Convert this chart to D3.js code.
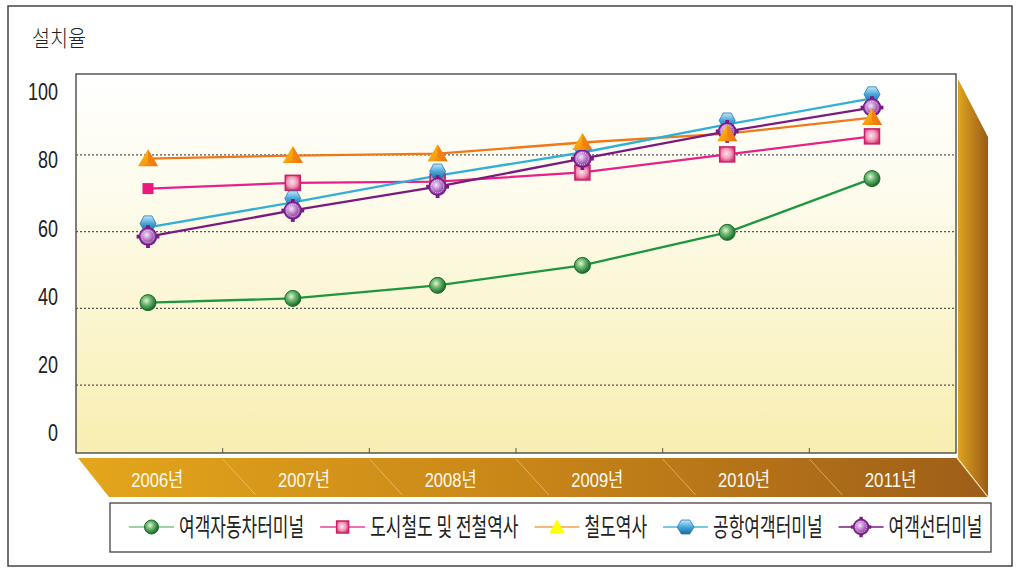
<!DOCTYPE html>
<html><head><meta charset="utf-8">
<script src="https://cdn.jsdelivr.net/npm/d3@7"></script>
<style>html,body{margin:0;padding:0;background:#fff;}svg{display:block;}</style>
</head><body>
<svg id="chart" width="1030" height="571"></svg>
<script>
// ---- data ----
const years = ["2006년","2007년","2008년","2009년","2010년","2011년"];
const seriesNames = ["여객자동차터미널","도시철도 및 전철역사","철도역사","공항여객터미널","여객선터미널"];
const busTerminal   = [41.5, 42.6, 46.0, 51.2, 59.8, 73.8];
const urbanRail     = [71.2, 72.7, 73.0, 75.4, 80.1, 84.8];
const railStation   = [79.0, 79.8, 80.3, 83.2, 85.5, 89.7];
const airport       = [61.1, 67.6, 74.6, 80.6, 87.9, 94.7];
const ferryTerminal = [58.7, 65.5, 71.7, 79.0, 86.1, 92.3];
const yTicks = [0, 20, 40, 60, 80, 100];
const gridValues = [20, 40, 60, 80];
const yTitle = "설치율";

const svg = d3.select("#chart");
const defs = svg.append("defs");

function linGrad(id, x1, y1, x2, y2, stops, user) {
  const g = defs.append("linearGradient").attr("id", id)
    .attr("x1", x1).attr("y1", y1).attr("x2", x2).attr("y2", y2);
  if (user) g.attr("gradientUnits", "userSpaceOnUse");
  stops.forEach(s => g.append("stop").attr("offset", s[0]).attr("stop-color", s[1]));
}
function radGrad(id, cx, cy, stops) {
  const g = defs.append("radialGradient").attr("id", id).attr("cx", cx).attr("cy", cy).attr("r", "60%");
  stops.forEach(s => g.append("stop").attr("offset", s[0]).attr("stop-color", s[1]));
}
linGrad("plotBg", 0, 0, 0, 1, [[0, "#ffffff"], [0.35, "#fdfbea"], [1, "#f8eeb0"]]);
linGrad("floorGrad", 78, 0, 987, 0, [[0, "#e3a61c"], [0.5, "#c88518"], [1, "#9e5e18"]], true);
linGrad("wallGrad", 958, 0, 988, 0, [[0, "#dea420"], [1, "#9a5a16"]], true);
radGrad("greenBall", "40%", "38%", [[0, "#e4f4d8"], [0.45, "#6cb870"], [1, "#1a6c2c"]]);
radGrad("pinkSq", "45%", "45%", [[0, "#fde4ec"], [0.55, "#f29ab8"], [1, "#d8306e"]]);
linGrad("triGrad", 0, 0, 1, 1, [[0, "#ffc400"], [0.55, "#f8a010"], [1, "#ec6a0c"]]);
linGrad("hexGrad", 0, 0, 0, 1, [[0, "#c0e8fa"], [0.5, "#4aa6d8"], [1, "#1c6aa0"]]);
radGrad("gearGrad", "42%", "40%", [[0, "#f6e6fa"], [0.5, "#b878c8"], [1, "#7a2888"]]);

// ---- layout ----
const plotL = 76, plotR = 956, plotT = 74, plotB = 453;
const y = d3.scaleLinear().domain([0, 100]).range([462, 78]);
const yLabel = d3.scaleLinear().domain([0, 100]).range([433, 92]);
const xBand = d3.scaleBand().domain(years).range([plotL, plotR]);
const x = d3.scalePoint().domain(years).range([148, 872]);

// outer border
svg.append("rect").attr("x", 8).attr("y", 6).attr("width", 1004).attr("height", 560)
  .attr("fill", "#fff").attr("stroke", "#444").attr("stroke-width", 1.5);

// y title
svg.append("text").attr("x", 32).attr("y", 38).attr("dy", "0.35em")
  .attr("font-family", "Noto Sans CJK KR").attr("font-size", 22).attr("font-weight", 300).attr("fill", "#222")
  .attr("textLength", 54).attr("lengthAdjust", "spacingAndGlyphs").text(yTitle);

// plot area
svg.append("rect").attr("x", plotL).attr("y", plotT).attr("width", plotR - plotL).attr("height", plotB - plotT)
  .attr("fill", "url(#plotBg)").attr("stroke", "#555").attr("stroke-width", 1.5);

// right wall
svg.append("path")
  .attr("d", `M958,79 L988,137 L988,497 L958,458 Z`)
  .attr("fill", "url(#wallGrad)");

// floor
const floorT = 458, floorB = 497, skew = 31;
svg.append("path")
  .attr("d", `M${plotL + 2},${floorT} L${plotR + 1},${floorT} L${plotR + skew + 1},${floorB} L${plotL + skew + 2},${floorB} Z`)
  .attr("fill", "url(#floorGrad)");
svg.append("line").attr("x1", plotR + 1).attr("y1", floorT).attr("x2", plotR + skew + 1).attr("y2", floorB)
  .attr("stroke", "#f4e2b0").attr("stroke-width", 1.2);
years.slice(1).forEach(yr => {
  const bx = xBand(yr);
  svg.append("line").attr("x1", bx).attr("y1", floorT + 1).attr("x2", bx + skew + 2).attr("y2", floorB - 2)
    .attr("stroke", "#f0d48a").attr("stroke-opacity", 0.75).attr("stroke-width", 0.8);
  svg.append("line").attr("x1", bx).attr("y1", plotB - 5).attr("x2", bx).attr("y2", plotB)
    .attr("stroke", "#555").attr("stroke-width", 1);
});
// year labels
svg.append("g").selectAll("text").data(years).join("text")
  .attr("x", d => xBand(d) + xBand.bandwidth() / 2 + 8)
  .attr("y", 480).attr("dy", "0.35em").attr("text-anchor", "middle")
  .attr("font-family", "Liberation Sans, Noto Sans CJK KR").attr("font-size", 20)
  .attr("fill", "#fffaf0").attr("textLength", 52).attr("lengthAdjust", "spacingAndGlyphs")
  .text(d => d);

// grid lines
svg.append("g").selectAll("line").data(gridValues).join("line")
  .attr("x1", plotL).attr("x2", plotR).attr("y1", d => y(d)).attr("y2", d => y(d))
  .attr("stroke", "#555").attr("stroke-width", 1.2).attr("stroke-dasharray", "2,2");

// y tick labels
const yAxis = svg.append("g").attr("transform", "translate(58,0)")
  .call(d3.axisLeft(yLabel).tickValues(yTicks).tickSize(0).tickPadding(0).tickFormat(d3.format("d")));
yAxis.select(".domain").remove();
yAxis.selectAll("text")
  .attr("font-family", "Liberation Sans Narrow, Liberation Sans, Arial").attr("font-size", 24).attr("fill", "#222")
  .attr("textLength", function(d) { return String(d).length * 10; })
  .attr("lengthAdjust", "spacingAndGlyphs");

// ---- markers ----
function drawCircle(g, r) {
  g.append("circle").attr("r", r).attr("fill", "url(#greenBall)").attr("stroke", "#1a6a2a").attr("stroke-width", 1);
}
function drawSquare(g, s, solid) {
  if (solid) {
    g.append("rect").attr("x", -s / 2).attr("y", -s / 2).attr("width", s).attr("height", s).attr("fill", "#ea1a7c");
  } else {
    g.append("rect").attr("x", -s / 2).attr("y", -s / 2).attr("width", s).attr("height", s)
      .attr("fill", "url(#pinkSq)").attr("stroke", "#c8206a").attr("stroke-width", 1.5);
  }
}
function drawTriangle(g, w, h, flatColor) {
  g.append("path").attr("d", `M0,${-h / 2 - 2} L${w / 2},${h / 2} L${-w / 2},${h / 2} Z`)
    .attr("fill", flatColor || "url(#triGrad)");
  if (!flatColor) {
    g.append("path").attr("d", `M0,${-h / 2 - 2} L${w / 2},${h / 2} L0,${h / 2 - 4} Z`).attr("fill", "#f07a10").attr("opacity", 0.8);
  }
}
function drawHex(g, w, h) {
  const a = w / 2, b = h / 2, c = w / 4;
  g.append("path").attr("d", `M${-a},0 L${-c},${-b} L${c},${-b} L${a},0 L${c},${b} L${-c},${b} Z`)
    .attr("fill", "url(#hexGrad)").attr("stroke", "#2a7ab0").attr("stroke-width", 0.8);
}
function drawGear(g, r) {
  const t = r * 0.45;
  [[0, -1], [0, 1], [-1, 0], [1, 0]].forEach(([dx, dy]) => {
    g.append("rect").attr("x", dx * (r + 1) - t / 2).attr("y", dy * (r + 1) - t / 2)
      .attr("width", t).attr("height", t).attr("fill", "#7a1a88");
  });
  g.append("circle").attr("r", r).attr("fill", "url(#gearGrad)").attr("stroke", "#7a1a88").attr("stroke-width", 1.5);
  g.append("circle").attr("r", r * 0.72).attr("fill", "none").attr("stroke", "#fff")
    .attr("stroke-width", 0.8).attr("stroke-dasharray", "1,1.2");
}

const series = [
  { name: seriesNames[0], values: busTerminal,   color: "#1e9640", lcolor: "#78c488", marker: "circle" },
  { name: seriesNames[1], values: urbanRail,     color: "#e8208a", lcolor: "#e8409a", marker: "square" },
  { name: seriesNames[2], values: railStation,   color: "#f07818", lcolor: "#f4a050", marker: "triangle" },
  { name: seriesNames[3], values: airport,       color: "#30b0d8", lcolor: "#48b8e0", marker: "hex" },
  { name: seriesNames[4], values: ferryTerminal, color: "#7a1a80", lcolor: "#7a1a88", marker: "gear" }
];

const line = d3.line().x(d => x(d.year)).y(d => y(d.v));
const lineG = svg.append("g");
series.forEach(s => {
  const pts = years.map((yr, i) => ({ year: yr, v: s.values[i] }));
  lineG.append("path").datum(pts).attr("d", line).attr("fill", "none")
    .attr("stroke", s.color).attr("stroke-width", 2.3);
});

const markG = svg.append("g");
const order = [1, 3, 4, 2, 0];
order.forEach(si => {
  const s = series[si];
  years.forEach((yr, i) => {
    const g = markG.append("g").attr("transform", `translate(${x(yr)},${y(s.values[i])})`);
    if (s.marker === "circle") drawCircle(g, 8);
    else if (s.marker === "square") drawSquare(g, i === 0 ? 11 : 15, i === 0);
    else if (s.marker === "triangle") drawTriangle(g, 20, 15);
    else if (s.marker === "hex") { g.attr("transform", `translate(${x(yr)},${y(s.values[i]) - 4})`); drawHex(g, 16, 15); }
    else if (s.marker === "gear") drawGear(g, 8.5);
  });
});

// ---- legend ----
svg.append("rect").attr("x", 110).attr("y", 503).attr("width", 881).attr("height", 49)
  .attr("fill", "#fff").attr("stroke", "#444").attr("stroke-width", 1.3);
const legY = 527;
let lx = 129;
series.forEach(s => {
  const g = svg.append("g");
  g.append("line").attr("x1", lx).attr("x2", lx + 45).attr("y1", legY).attr("y2", legY)
    .attr("stroke", s.lcolor).attr("stroke-width", 1.3);
  const m = g.append("g").attr("transform", `translate(${lx + 22.5},${legY})`);
  if (s.marker === "circle") drawCircle(m, 7);
  else if (s.marker === "square") drawSquare(m, 12, false);
  else if (s.marker === "triangle") drawTriangle(m, 15, 12, "#ffff00");
  else if (s.marker === "hex") drawHex(m, 17, 14);
  else if (s.marker === "gear") drawGear(m, 7.5);
  const t = g.append("text").attr("x", lx + 50).attr("y", legY).attr("dy", "0.36em")
    .attr("font-family", "Noto Sans CJK KR").attr("font-size", 25).attr("fill", "#222").text(s.name);
  const w = t.node().getComputedTextLength() * 0.68;
  t.attr("textLength", w).attr("lengthAdjust", "spacingAndGlyphs");
  lx = lx + 50 + w + 16;
});
</script>
</body></html>
